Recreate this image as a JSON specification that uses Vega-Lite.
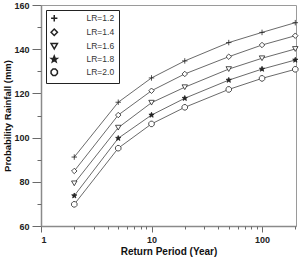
{
  "$schema": "https://vega.github.io/schema/vega-lite/v6.json",
  "width": 255,
  "height": 221,
  "autosize": "none",
  "padding": {"left": 41, "top": 5, "right": 4, "bottom": 31},
  "background": "white",
  "config": {
    "view": {"stroke": "#9a9a9a", "strokeWidth": 1},
    "font": "Liberation Sans",
    "axis": {"grid": false, "domainColor": "#8a8a8a", "domainWidth": 1.5, "tickColor": "#6a6a6a", "labelColor": "#222", "titleColor": "#111", "labelFont": "Liberation Sans", "titleFont": "Liberation Sans"}
  },
  "data": {"values": [
    {"T": 2, "LR": "LR=1.2", "rain": 91.2},
    {"T": 5, "LR": "LR=1.2", "rain": 116.0},
    {"T": 10, "LR": "LR=1.2", "rain": 127.0},
    {"T": 20, "LR": "LR=1.2", "rain": 134.7},
    {"T": 50, "LR": "LR=1.2", "rain": 143.0},
    {"T": 100, "LR": "LR=1.2", "rain": 147.6},
    {"T": 200, "LR": "LR=1.2", "rain": 152.0},
    {"T": 2, "LR": "LR=1.4", "rain": 84.9},
    {"T": 5, "LR": "LR=1.4", "rain": 110.2},
    {"T": 10, "LR": "LR=1.4", "rain": 121.2},
    {"T": 20, "LR": "LR=1.4", "rain": 128.8},
    {"T": 50, "LR": "LR=1.4", "rain": 136.6},
    {"T": 100, "LR": "LR=1.4", "rain": 141.9},
    {"T": 200, "LR": "LR=1.4", "rain": 146.1},
    {"T": 2, "LR": "LR=1.6", "rain": 79.3},
    {"T": 5, "LR": "LR=1.6", "rain": 104.5},
    {"T": 10, "LR": "LR=1.6", "rain": 115.8},
    {"T": 20, "LR": "LR=1.6", "rain": 122.8},
    {"T": 50, "LR": "LR=1.6", "rain": 131.0},
    {"T": 100, "LR": "LR=1.6", "rain": 135.9},
    {"T": 200, "LR": "LR=1.6", "rain": 140.1},
    {"T": 2, "LR": "LR=1.8", "rain": 73.7},
    {"T": 5, "LR": "LR=1.8", "rain": 99.7},
    {"T": 10, "LR": "LR=1.8", "rain": 110.2},
    {"T": 20, "LR": "LR=1.8", "rain": 117.8},
    {"T": 50, "LR": "LR=1.8", "rain": 126.0},
    {"T": 100, "LR": "LR=1.8", "rain": 131.0},
    {"T": 200, "LR": "LR=1.8", "rain": 135.1},
    {"T": 2, "LR": "LR=2.0", "rain": 69.8},
    {"T": 5, "LR": "LR=2.0", "rain": 95.2},
    {"T": 10, "LR": "LR=2.0", "rain": 106.2},
    {"T": 20, "LR": "LR=2.0", "rain": 113.7},
    {"T": 50, "LR": "LR=2.0", "rain": 121.8},
    {"T": 100, "LR": "LR=2.0", "rain": 126.8},
    {"T": 200, "LR": "LR=2.0", "rain": 130.9}
  ]},
  "layer": [
    {
      "mark": {"type": "line", "color": "#444", "strokeWidth": 0.8},
      "encoding": {
        "x": {"field": "T", "type": "quantitative", "scale": {"type": "log", "domain": [1, 203], "nice": false},
          "axis": {"values": [1, 10, 100], "format": "d", "tickSize": 6, "labelFontSize": 9, "labelFontWeight": "bold", "labelPadding": 3, "title": "Return Period (Year)", "titleFontSize": 10, "titleFontWeight": "bold", "titlePadding": 2}},
        "y": {"field": "rain", "type": "quantitative", "scale": {"domain": [60, 160], "nice": false, "zero": false},
          "axis": {"values": [60, 80, 100, 120, 140, 160], "tickSize": 9, "labelFontSize": 9, "labelFontWeight": "bold", "labelPadding": 3, "title": "Probability Rainfall (mm)", "titleFontSize": 9.5, "titleFontWeight": "bold", "titlePadding": 1}},
        "detail": {"field": "LR", "type": "nominal"}
      }
    },
    {
      "mark": {"type": "point", "filled": true, "stroke": "#222", "strokeWidth": 0.8, "size": 30, "opacity": 1},
      "encoding": {
        "x": {"field": "T", "type": "quantitative", "scale": {"type": "log", "domain": [1, 203], "nice": false},
          "axis": {"orient": "bottom", "values": [2, 3, 4, 5, 6, 7, 8, 9, 20, 30, 40, 50, 60, 70, 80, 90, 200], "tickSize": 3, "labels": false, "domain": false, "title": null}},
        "y": {"field": "rain", "type": "quantitative", "scale": {"domain": [60, 160], "nice": false, "zero": false},
          "axis": {"orient": "left", "values": [70, 90, 110, 130, 150], "tickSize": 4, "labels": false, "domain": false, "title": null}},
        "shape": {"field": "LR", "type": "nominal",
          "scale": {"domain": ["LR=1.2", "LR=1.4", "LR=1.6", "LR=1.8", "LR=2.0"],
            "range": ["M-1,0L1,0M0,-1L0,1", "diamond", "triangle-down", "M0,-1L0.25,-0.35L0.95,-0.31L0.4,0.13L0.59,0.81L0,0.42L-0.59,0.81L-0.4,0.13L-0.95,-0.31L-0.25,-0.35Z", "M-1,-0.4L-0.4,-1L0.4,-1L1,-0.4L1,0.4L0.4,1L-0.4,1L-1,0.4Z"]},
          "legend": {"orient": "top-left", "offset": 5, "title": null, "strokeColor": "#222", "padding": 4, "labelFontSize": 8.5, "labelColor": "#333", "symbolSize": 40, "rowPadding": 1, "labelOffset": 28,
            "encode": {"symbols": {"update": {
              "fill": {"signal": "datum.value === 'LR=1.8' ? '#222' : 'transparent'"},
              "stroke": {"value": "#222"},
              "strokeWidth": {"value": 0.8}
            }}}}},
        "fill": {"field": "LR", "type": "nominal",
          "scale": {"domain": ["LR=1.2", "LR=1.4", "LR=1.6", "LR=1.8", "LR=2.0"], "range": ["transparent", "white", "white", "#222", "white"]},
          "legend": null}
      }
    }
  ],
  "resolve": {"axis": {"x": "independent", "y": "independent"}}
}
